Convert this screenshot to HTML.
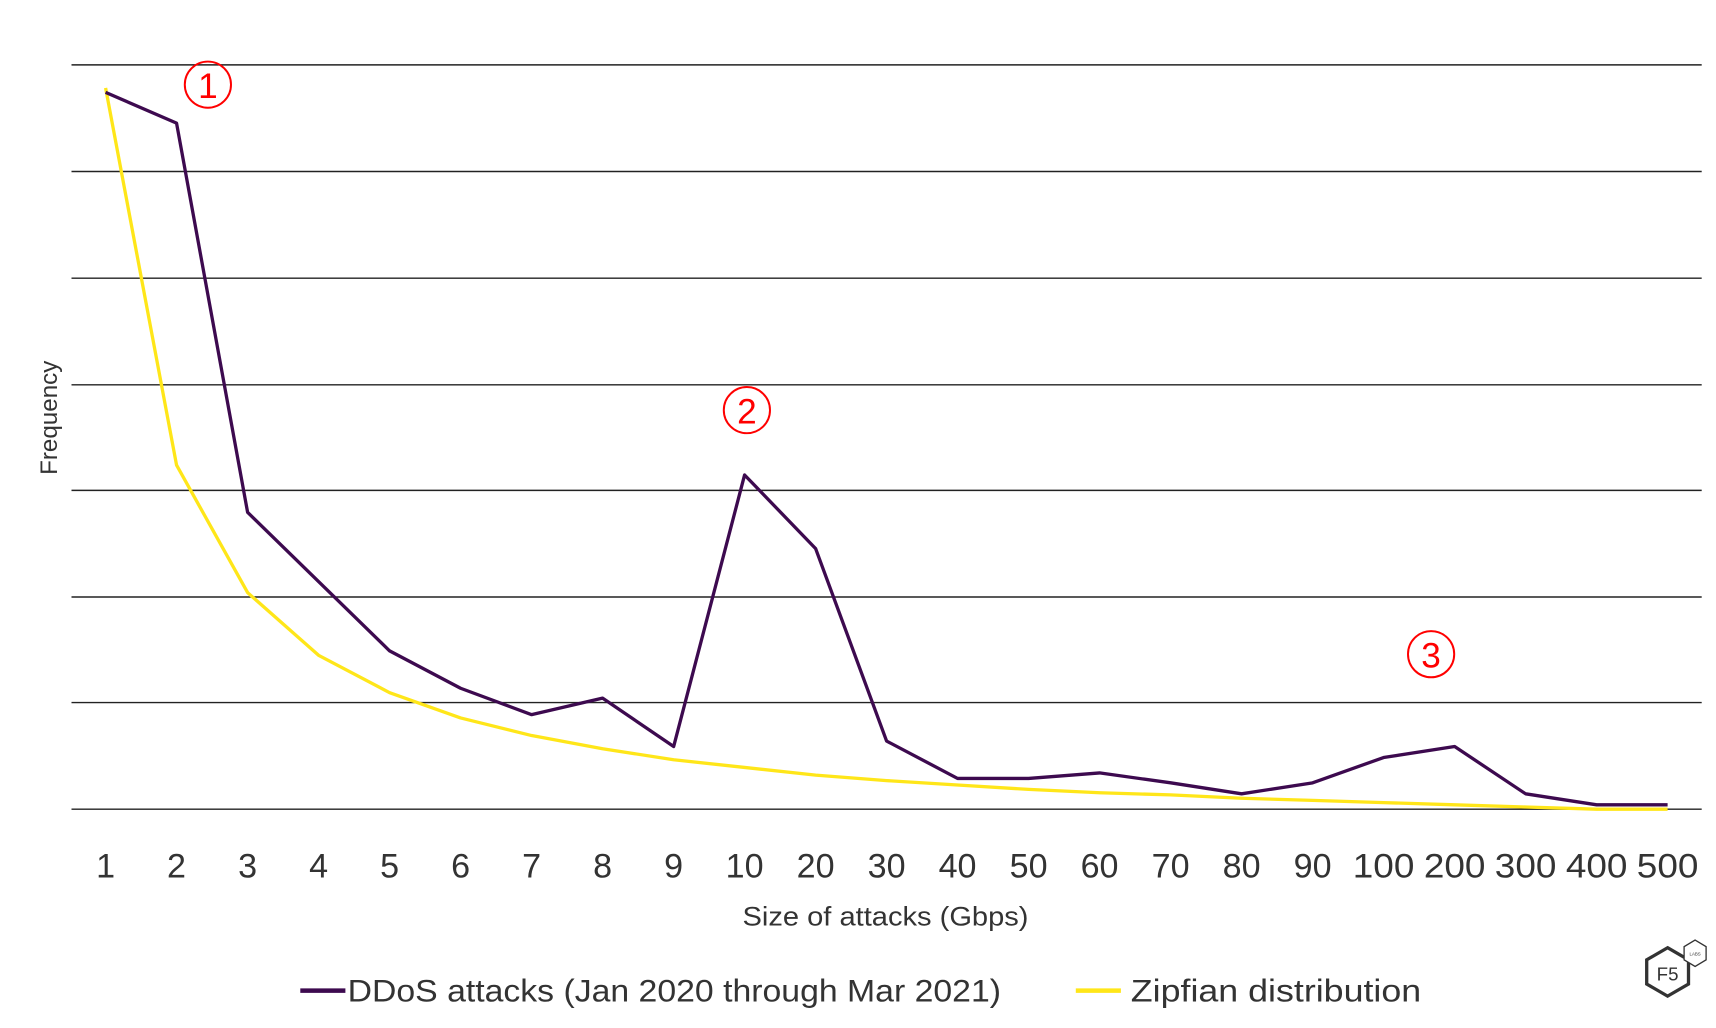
<!DOCTYPE html>
<html><head><meta charset="utf-8"><style>
html,body{margin:0;padding:0;background:#fff;}
svg{display:block;}
text{font-family:"Liberation Sans",sans-serif;}
</style></head><body>
<svg width="1716" height="1028" viewBox="0 0 1560 935" preserveAspectRatio="none" xmlns="http://www.w3.org/2000/svg">
<rect width="1560" height="935" fill="#fff"/>
<g stroke="#222" stroke-width="1.3">
<line x1="65" y1="59" x2="1547" y2="59"/>
<line x1="65" y1="156" x2="1547" y2="156"/>
<line x1="65" y1="253" x2="1547" y2="253"/>
<line x1="65" y1="350" x2="1547" y2="350"/>
<line x1="65" y1="446" x2="1547" y2="446"/>
<line x1="65" y1="543" x2="1547" y2="543"/>
<line x1="65" y1="639" x2="1547" y2="639"/>
<line x1="65" y1="736" x2="1547" y2="736"/>
</g>
<polyline fill="none" stroke="#ffe619" stroke-width="3" stroke-linejoin="round" points="96,80 160.5,423 225.1,539 289.6,596 354.2,630 418.7,653 483.3,669 547.8,681 612.4,691 676.9,698 741.5,705 806,710 870.5,714 935.1,718 999.6,721 1064.2,723 1128.7,726 1193.3,728 1257.8,730 1322.4,732 1386.9,734 1451.5,736 1516,736"/>
<polyline fill="none" stroke="#3d0a4f" stroke-width="3" stroke-linejoin="round" points="96,84 160.5,112 225.1,466 289.6,529 354.2,592 418.7,626 483.3,650 547.8,635 612.4,679 676.9,432 741.5,499 806,674 870.5,708 935.1,708 999.6,703 1064.2,712 1128.7,722 1193.3,712 1257.8,689 1322.4,679 1386.9,722 1451.5,732 1516,732"/>
<g fill="none" stroke="#f00" stroke-width="1.8">
<ellipse cx="189" cy="77" rx="21" ry="21"/><ellipse cx="679" cy="373" rx="21" ry="21"/><ellipse cx="1301" cy="595" rx="21" ry="21"/>
</g>
<g fill="#f00" font-size="32" text-anchor="middle">
<text x="189" y="89">1</text><text x="679" y="385">2</text><text x="1301" y="607">3</text>
</g>
<g fill="#333" font-size="31" text-anchor="middle">
<text x="96" y="798">1</text><text x="160.5" y="798">2</text><text x="225.1" y="798">3</text><text x="289.6" y="798">4</text><text x="354.2" y="798">5</text><text x="418.7" y="798">6</text><text x="483.3" y="798">7</text><text x="547.8" y="798">8</text><text x="612.4" y="798">9</text><text x="676.9" y="798">10</text><text x="741.5" y="798">20</text><text x="806" y="798">30</text><text x="870.5" y="798">40</text><text x="935.1" y="798">50</text><text x="999.6" y="798">60</text><text x="1064.2" y="798">70</text><text x="1128.7" y="798">80</text><text x="1193.3" y="798">90</text><text x="1257.8" y="798" textLength="56" lengthAdjust="spacingAndGlyphs">100</text><text x="1322.4" y="798" textLength="56" lengthAdjust="spacingAndGlyphs">200</text><text x="1386.9" y="798" textLength="56" lengthAdjust="spacingAndGlyphs">300</text><text x="1451.5" y="798" textLength="56" lengthAdjust="spacingAndGlyphs">400</text><text x="1516" y="798" textLength="56" lengthAdjust="spacingAndGlyphs">500</text>
</g>
<text x="675" y="842" font-size="24" fill="#333" textLength="260" lengthAdjust="spacingAndGlyphs">Size of attacks (Gbps)</text>
<text transform="translate(52,380) rotate(-90)" font-size="22" fill="#333" text-anchor="middle">Frequency</text>
<line x1="273" y1="901" x2="314" y2="901" stroke="#3d0a4f" stroke-width="4"/>
<text x="316" y="911" font-size="29" fill="#333" textLength="594" lengthAdjust="spacingAndGlyphs">DDoS attacks (Jan 2020 through Mar 2021)</text>
<line x1="978" y1="901" x2="1019" y2="901" stroke="#ffe619" stroke-width="4"/>
<text x="1028" y="911" font-size="29" fill="#333" textLength="264" lengthAdjust="spacingAndGlyphs">Zipfian distribution</text>
<g fill="none" stroke="#333">
<polygon points="1516,862 1535,873 1535,895 1516,906 1497,895 1497,873" stroke-width="3"/>
<polygon points="1541,855 1551,861 1551,873 1541,879 1531,873 1531,861" stroke-width="1.2" fill="#fff"/>
</g>
<text x="1516" y="892" font-size="17" fill="#333" text-anchor="middle">F5</text>
<text x="1541" y="869" font-size="4" fill="#333" text-anchor="middle">LABS</text>
</svg>
</body></html>
